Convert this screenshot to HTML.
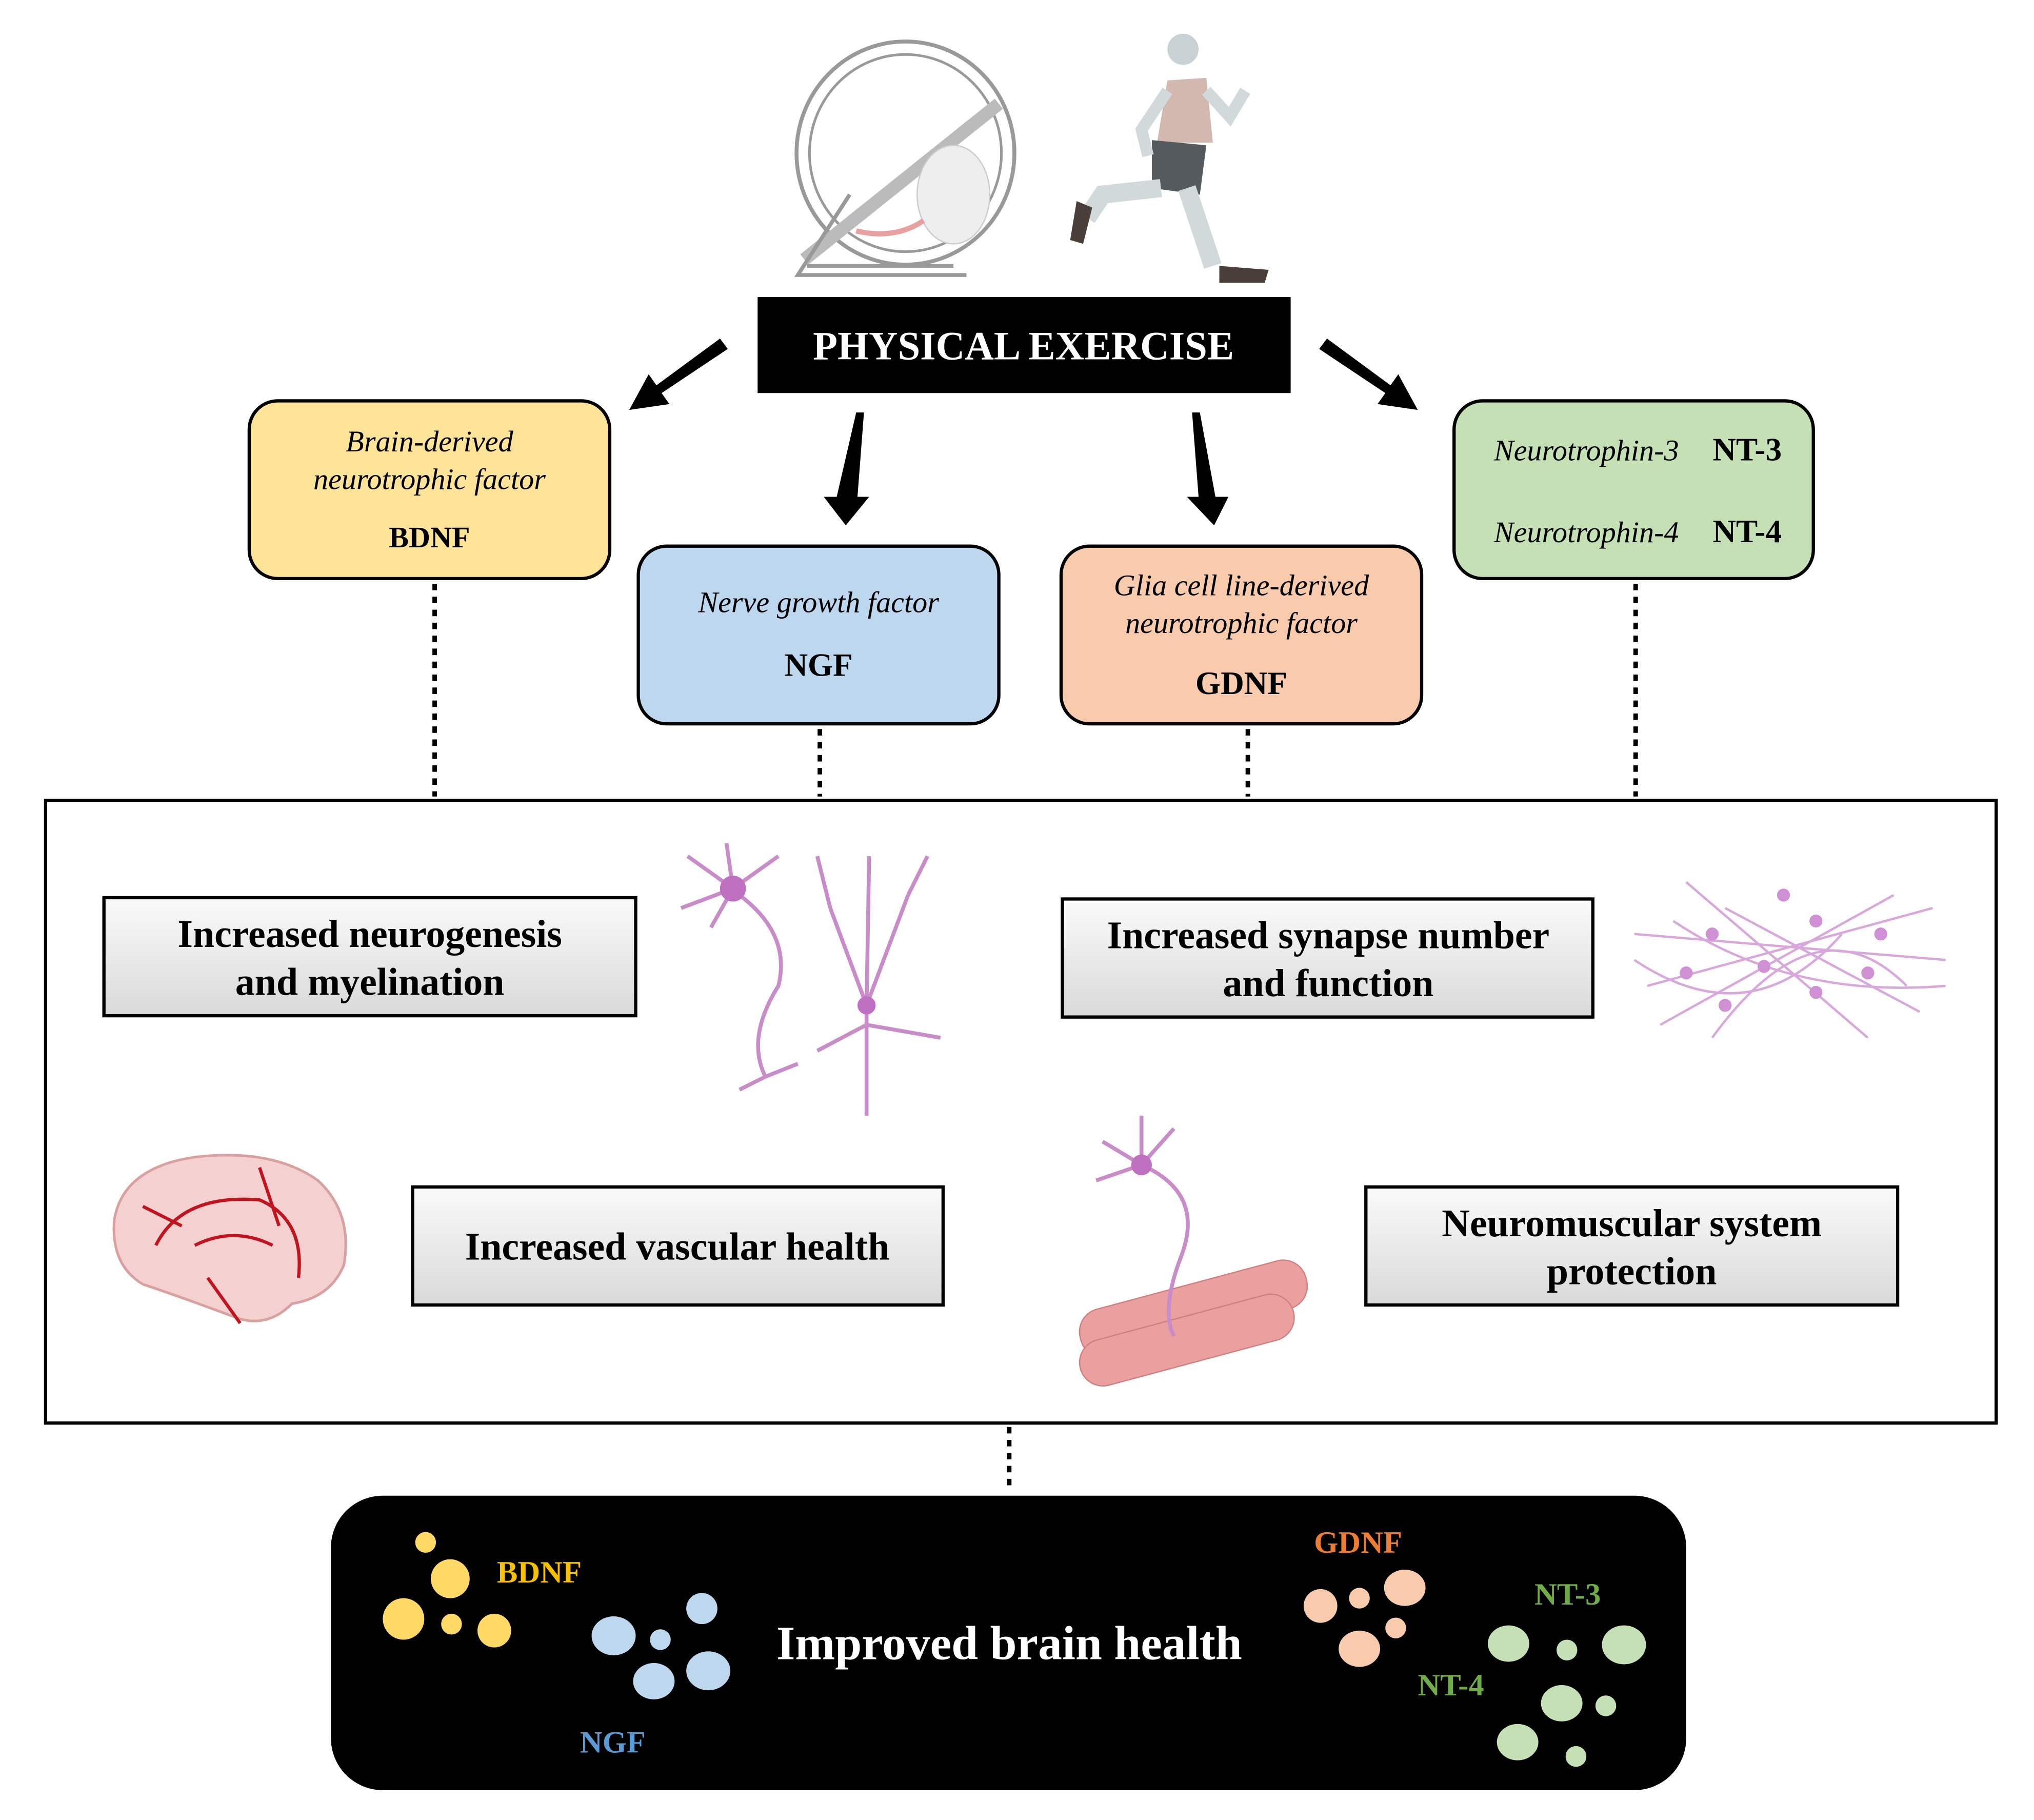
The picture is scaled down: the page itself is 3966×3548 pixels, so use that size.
<!DOCTYPE html>
<html><head><meta charset="utf-8"><style>
html,body{margin:0;padding:0;background:#fff;width:3966px;height:3548px;overflow:hidden}
svg{display:block}
text{font-family:"Liberation Serif",serif}
</style></head><body>
<svg width="3966" height="3548" viewBox="0 0 1568 1403" xmlns="http://www.w3.org/2000/svg">
<defs>
<linearGradient id="g" x1="0" y1="0" x2="0" y2="1"><stop offset="0" stop-color="#fafafa"/><stop offset="1" stop-color="#d9d9d9"/></linearGradient>
</defs>
<!-- hamster wheel -->
<g fill="none" stroke="#999" stroke-width="3">
<ellipse cx="698" cy="118" rx="84" ry="86"/>
<ellipse cx="698" cy="118" rx="74" ry="76" stroke-width="2"/>
<line x1="620" y1="200" x2="770" y2="80" stroke="#bbb" stroke-width="10"/>
<polyline points="655,150 615,212 745,212" stroke-width="3"/>
<line x1="622" y1="205" x2="735" y2="205"/>
</g>
<ellipse cx="735" cy="150" rx="28" ry="38" fill="#eee" stroke="#ccc"/>
<path d="M712 170 Q690 185 660 178" stroke="#e8a0a0" stroke-width="4" fill="none"/>
<!-- runner -->
<circle cx="912" cy="38" r="12" fill="#c8d2d4"/>
<path d="M900 62 L930 60 L935 110 L892 110 Z" fill="#d2b8ae"/>
<path d="M888 108 L930 112 L925 150 L888 145 Z" fill="#555a5e"/>
<path d="M895 145 L850 150 L838 168" stroke="#d2d9da" stroke-width="14" fill="none"/>
<path d="M915 145 L935 205" stroke="#d2d9da" stroke-width="14" fill="none"/>
<path d="M900 70 L880 100 L885 120 M930 70 L948 90 L960 70" stroke="#d2d9da" stroke-width="9" fill="none"/>
<path d="M830 155 L842 160 L835 188 L825 185 Z" fill="#4a3f38"/>
<path d="M940 205 L978 208 L975 218 L940 218 Z" fill="#4a3f38"/>
<!-- Physical exercise -->
<rect x="584" y="229" width="411" height="74" fill="#000"/>
<text x="789" y="277" fill="#fff" font-size="31" text-anchor="middle" font-weight="bold">PHYSICAL EXERCISE</text>
<!-- arrows -->
<g fill="#000">
<polygon points="555,261 506,297 500,288.5 485,316 516,311.5 510,303 561,269"/>
<polygon points="660,318 666,318 661,383 670,383 652,405 635,383 645,383"/>
<polygon points="919,318 925,318 937,383 947,383 936,405 915,383 924,383"/>
<polygon points="1023,261 1072,297 1078,288.5 1093,316 1062,311.5 1068,303 1017,269"/>
</g>
<!-- factor boxes -->
<g stroke="#000" stroke-width="2.5">
<rect x="192" y="309" width="278" height="137" rx="22" fill="#fee499"/>
<rect x="492" y="421" width="278" height="137" rx="22" fill="#bdd7ee"/>
<rect x="818" y="421" width="278" height="137" rx="22" fill="#f8cbad"/>
<rect x="1121" y="309" width="277" height="137" rx="22" fill="#c5e0b4"/>
</g>
<g font-size="23" text-anchor="middle">
<text x="331" y="348" font-style="italic">Brain-derived</text>
<text x="331" y="377" font-style="italic">neurotrophic factor</text>
<text x="331" y="422" font-weight="bold">BDNF</text>
<text x="631" y="472" font-style="italic">Nerve growth factor</text>
<text x="631" y="521" font-weight="bold" font-size="25">NGF</text>
<text x="957" y="459" font-style="italic">Glia cell line-derived</text>
<text x="957" y="488" font-style="italic">neurotrophic factor</text>
<text x="957" y="535" font-weight="bold" font-size="25">GDNF</text>
<text x="1223" y="355" font-style="italic">Neurotrophin-3</text>
<text x="1347" y="355" font-weight="bold" font-size="25">NT-3</text>
<text x="1223" y="418" font-style="italic">Neurotrophin-4</text>
<text x="1347" y="418" font-weight="bold" font-size="25">NT-4</text>
</g>
<!-- dotted -->
<g stroke="#000" stroke-width="3.5" stroke-dasharray="5,5">
<line x1="335" y1="450" x2="335" y2="614"/>
<line x1="632" y1="562" x2="632" y2="614"/>
<line x1="962" y1="562" x2="962" y2="614"/>
<line x1="1261" y1="450" x2="1261" y2="614"/>
<line x1="778" y1="1100" x2="778" y2="1150"/>
</g>
<rect x="35" y="617" width="1504" height="480" fill="none" stroke="#000" stroke-width="2.5"/>
<!-- gray boxes -->
<g stroke="#000" stroke-width="2.5" fill="url(#g)">
<rect x="80" y="692" width="410" height="91"/>
<rect x="819" y="693" width="409" height="91"/>
<rect x="318" y="915" width="409" height="91"/>
<rect x="1053" y="915" width="410" height="91"/>
</g>
<g font-size="30" font-weight="bold" text-anchor="middle">
<text x="285" y="730">Increased neurogenesis</text>
<text x="285" y="767">and myelination</text>
<text x="1024" y="731">Increased synapse number</text>
<text x="1024" y="768">and function</text>
<text x="522" y="971">Increased vascular health</text>
<text x="1258" y="953">Neuromuscular system</text>
<text x="1258" y="990">protection</text>
</g>
<!-- neurons -->
<g stroke="#c88cc8" stroke-width="3" fill="none">
<path d="M565 685 L530 660 M565 685 L525 700 M565 685 L600 660 M565 685 L560 650 M565 685 L548 715"/>
<path d="M570 690 Q610 720 600 760 Q575 800 590 830 L570 840 M590 830 L615 820"/>
<path d="M668 775 L668 860 M668 775 L640 700 M668 775 L700 690 M668 775 L670 660 M640 700 L630 660 M700 690 L715 660 M668 790 L630 810 M668 790 L725 800"/>
</g>
<circle cx="565" cy="685" r="10" fill="#c070c0"/>
<circle cx="668" cy="775" r="7" fill="#c070c0"/>
<!-- network -->
<g stroke="#d8a8dc" stroke-width="1.8" fill="none">
<path d="M1260 720 L1500 740 M1270 760 L1490 700 M1280 790 L1460 690 M1300 680 L1440 800 M1330 700 L1480 780 M1260 740 Q1350 800 1420 720 M1290 710 Q1380 770 1500 760 M1320 800 Q1400 690 1470 760"/>
</g>
<g fill="#d090d4">
<circle cx="1320" cy="720" r="5"/><circle cx="1360" cy="745" r="5"/><circle cx="1400" cy="710" r="5"/><circle cx="1440" cy="750" r="5"/><circle cx="1330" cy="775" r="5"/><circle cx="1400" cy="765" r="5"/><circle cx="1450" cy="720" r="5"/><circle cx="1300" cy="750" r="5"/><circle cx="1375" cy="690" r="5"/>
</g>
<!-- brain -->
<path d="M88 940 Q95 900 150 892 Q210 885 245 910 Q272 935 265 975 Q255 1000 225 1005 Q205 1025 180 1015 Q140 1000 110 990 Q85 975 88 940 Z" fill="#f5d0d0" stroke="#d9a0a0" stroke-width="2"/>
<g stroke="#c0141e" stroke-width="2.5" fill="none">
<path d="M120 960 Q140 920 200 925 Q235 940 230 985 M150 960 Q180 945 210 960 M160 985 L185 1020 M200 900 L215 945 M110 930 L140 945"/>
</g>
<!-- muscle -->
<g fill="#eba0a0" stroke="#d08080">
<rect x="830" y="990" width="180" height="38" rx="18" transform="rotate(-15 920 1009)"/>
<rect x="830" y="1015" width="170" height="36" rx="18" transform="rotate(-15 915 1033)"/>
</g>
<path d="M880 898 Q930 920 910 970 Q895 1010 905 1030" stroke="#c88cc8" stroke-width="3" fill="none"/>
<path d="M880 898 L850 880 M880 898 L845 910 M880 898 L905 870 M880 898 L880 860" stroke="#c88cc8" stroke-width="3"/>
<circle cx="880" cy="898" r="8" fill="#c070c0"/>
<!-- bottom -->
<rect x="255" y="1153" width="1045" height="227" rx="40" fill="#000"/>
<text x="778" y="1279" fill="#fff" font-size="37" text-anchor="middle" font-weight="bold">Improved brain health</text>
<g font-size="24" font-weight="bold">
<text x="383" y="1220" fill="#f5c000">BDNF</text>
<text x="447" y="1351" fill="#5b9bd5">NGF</text>
<text x="1013" y="1197" fill="#ed7d31">GDNF</text>
<text x="1183" y="1237" fill="#70ad47">NT-3</text>
<text x="1093" y="1307" fill="#70ad47">NT-4</text>
</g>
<g fill="#ffd966">
<circle cx="328" cy="1189" r="8"/><circle cx="347" cy="1217" r="15"/><circle cx="311" cy="1248" r="16"/><circle cx="348" cy="1252" r="8"/><circle cx="381" cy="1257" r="13"/>
</g>
<g fill="#bdd7ee">
<ellipse cx="473" cy="1261" rx="17" ry="15"/><circle cx="509" cy="1264" r="8"/><circle cx="541" cy="1240" r="12"/><ellipse cx="546" cy="1288" rx="17" ry="15"/><ellipse cx="504" cy="1296" rx="16" ry="14"/>
</g>
<g fill="#f8cbad">
<circle cx="1018" cy="1238" r="13"/><circle cx="1048" cy="1232" r="8"/><ellipse cx="1083" cy="1224" rx="16" ry="14"/><circle cx="1076" cy="1255" r="8"/><ellipse cx="1048" cy="1271" rx="16" ry="14"/>
</g>
<g fill="#c5e0b4">
<ellipse cx="1163" cy="1267" rx="16" ry="14"/><circle cx="1208" cy="1272" r="8"/><ellipse cx="1252" cy="1268" rx="17" ry="15"/><ellipse cx="1204" cy="1313" rx="16" ry="14"/><circle cx="1238" cy="1315" r="8"/><ellipse cx="1170" cy="1343" rx="16" ry="14"/><circle cx="1215" cy="1354" r="8"/>
</g>
</svg>
</body></html>
